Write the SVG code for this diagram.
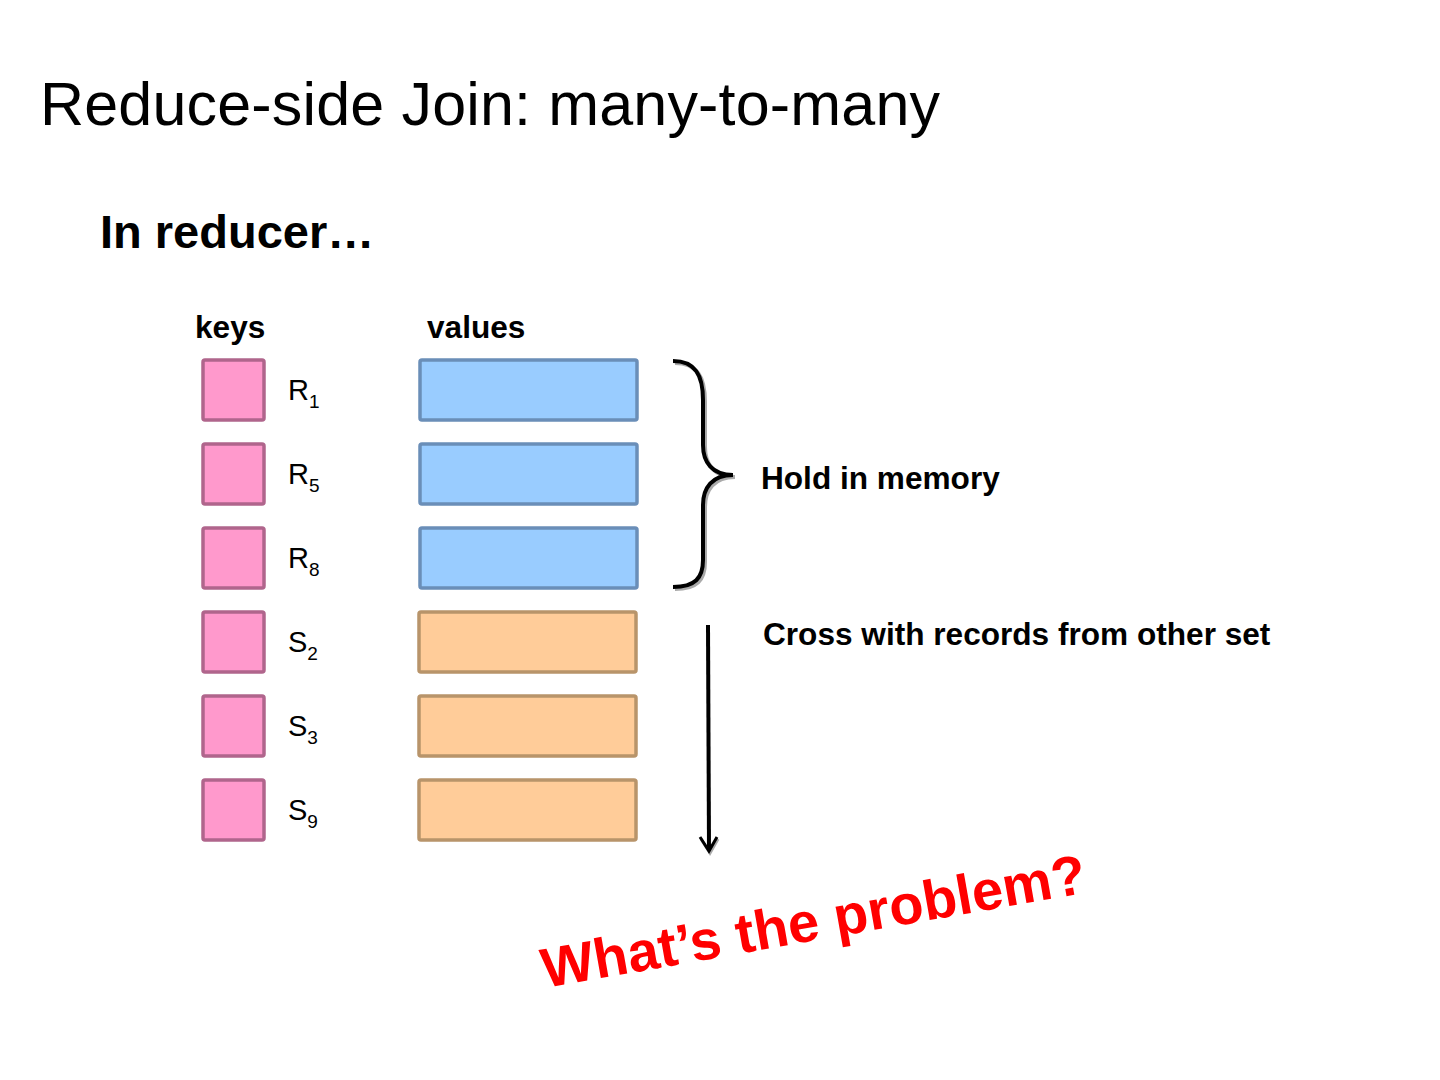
<svg xmlns="http://www.w3.org/2000/svg" width="1440" height="1080" viewBox="0 0 1440 1080">
<style>
text{font-family:"Liberation Sans",Arial,sans-serif;fill:#000}
.b{font-weight:bold}
.m{font-size:31.6px}
.key{fill:#FF99CC;stroke:#B0658C;stroke-width:3.5}
.rv{fill:#99CCFF;stroke:#6A8EB8;stroke-width:3.5}
.sv{fill:#FFCC99;stroke:#B8946A;stroke-width:3.5}
.lbl{font-size:29px}
.sub{font-size:19px}
</style>
<rect width="1440" height="1080" fill="#fff"/>
<text x="40" y="125" font-size="61" textLength="900">Reduce-side Join: many-to-many</text>
<text x="100" y="248" class="b" font-size="47">In reducer…</text>
<text x="195" y="338" class="b m">keys</text>
<text x="427" y="338" class="b m">values</text>

<g id="row-r1">
<rect class="key" x="203" y="360" width="61" height="60" rx="2"/>
<text class="lbl" x="288" y="400">R<tspan class="sub" dy="8">1</tspan></text>
<rect class="rv" x="420" y="360" width="217" height="60" rx="2"/>
</g>
<g id="row-r5">
<rect class="key" x="203" y="444" width="61" height="60" rx="2"/>
<text class="lbl" x="288" y="484">R<tspan class="sub" dy="8">5</tspan></text>
<rect class="rv" x="420" y="444" width="217" height="60" rx="2"/>
</g>
<g id="row-r8">
<rect class="key" x="203" y="528" width="61" height="60" rx="2"/>
<text class="lbl" x="288" y="568">R<tspan class="sub" dy="8">8</tspan></text>
<rect class="rv" x="420" y="528" width="217" height="60" rx="2"/>
</g>
<g id="row-s2">
<rect class="key" x="203" y="612" width="61" height="60" rx="2"/>
<text class="lbl" x="288" y="652">S<tspan class="sub" dy="8">2</tspan></text>
<rect class="sv" x="419" y="612" width="217" height="60" rx="2"/>
</g>
<g id="row-s3">
<rect class="key" x="203" y="696" width="61" height="60" rx="2"/>
<text class="lbl" x="288" y="736">S<tspan class="sub" dy="8">3</tspan></text>
<rect class="sv" x="419" y="696" width="217" height="60" rx="2"/>
</g>
<g id="row-s9">
<rect class="key" x="203" y="780" width="61" height="60" rx="2"/>
<text class="lbl" x="288" y="820">S<tspan class="sub" dy="8">9</tspan></text>
<rect class="sv" x="419" y="780" width="217" height="60" rx="2"/>
</g>

<g id="brace">
<path d="M673,361 C695,361 703,375 703,400 L703,445 C703,462 712,475 733,475 C712,475 703,488 703,505 L703,560 C703,578 695,587 673,587" fill="none" stroke="#aaa" stroke-width="4" transform="translate(2,2)"/>
<path d="M673,361 C695,361 703,375 703,400 L703,445 C703,462 712,475 733,475 C712,475 703,488 703,505 L703,560 C703,578 695,587 673,587" fill="none" stroke="#000" stroke-width="4"/>
</g>
<text x="761" y="489" class="b m">Hold in memory</text>

<g id="connectors">
<polyline points="701,839 710,853 718,839" fill="none" stroke="#aaa" stroke-width="3"/>
<line x1="708" y1="625" x2="709" y2="850" stroke="#000" stroke-width="4"/>
<polyline points="700,837 709,851 717,837" fill="none" stroke="#000" stroke-width="3"/>
</g>
<text x="763" y="645" class="b m">Cross with records from other set</text>

<text x="545" y="988" class="b" font-size="56" style="fill:#FF0000" transform="rotate(-10 545 988)">What’s the problem?</text>
</svg>
